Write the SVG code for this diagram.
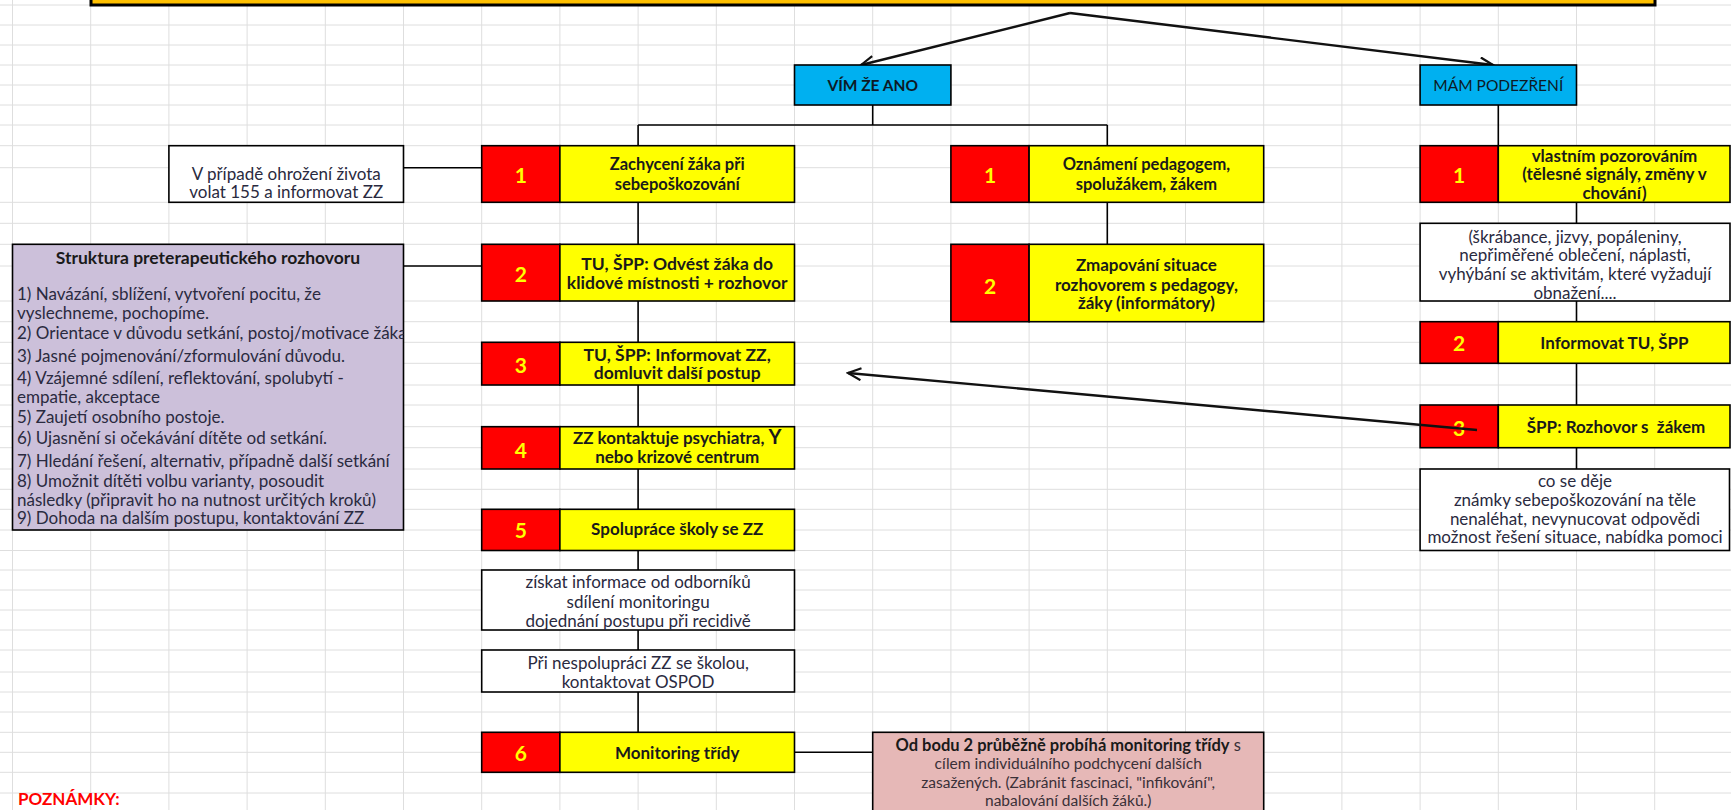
<svg xmlns="http://www.w3.org/2000/svg" width="1731" height="810" viewBox="0 0 1731 810">
<style>
.grid line{stroke:#DEDEDE;stroke-width:1}
.bx{stroke:#000;stroke-width:1.6}
.red{fill:#FF0000}
.yel{fill:#FFFF00}
.wht{fill:#FFFFFF}
text{font-family:Lato,"Liberation Sans",sans-serif}
.num{font-size:21px;font-weight:bold;fill:#FFFF00;text-anchor:middle}
.yt{font-size:17px;font-weight:bold;fill:#1a1a1a;text-anchor:middle}
.wt{font-size:17px;fill:#2a2a40;text-anchor:middle}
.pt{font-size:17px;fill:#2a2a40}
.nt{font-size:15.5px;fill:#3a3038;text-anchor:middle}
.con{stroke:#000;stroke-width:1.6;fill:none}
.arr{stroke:#111;stroke-width:2.4;fill:none}
</style>
<defs>
<marker id="ah" markerUnits="userSpaceOnUse" markerWidth="16" markerHeight="14" refX="14" refY="7" orient="auto">
<path d="M1,1 L14,7 L1,13" fill="none" stroke="#111" stroke-width="2.2"/>
</marker>
<clipPath id="pclip"><rect x="12.5" y="244.3" width="391" height="285.7"/></clipPath>
</defs>
<rect x="0" y="0" width="1731" height="810" fill="#FFFFFF"/>
<g class="grid">
<line x1="12.5" y1="0" x2="12.5" y2="810"/><line x1="90.7" y1="0" x2="90.7" y2="810"/><line x1="168.9" y1="0" x2="168.9" y2="810"/><line x1="247.1" y1="0" x2="247.1" y2="810"/><line x1="325.3" y1="0" x2="325.3" y2="810"/><line x1="403.5" y1="0" x2="403.5" y2="810"/><line x1="481.7" y1="0" x2="481.7" y2="810"/><line x1="559.9" y1="0" x2="559.9" y2="810"/><line x1="638.1" y1="0" x2="638.1" y2="810"/><line x1="716.3" y1="0" x2="716.3" y2="810"/><line x1="794.5" y1="0" x2="794.5" y2="810"/><line x1="872.7" y1="0" x2="872.7" y2="810"/><line x1="950.9" y1="0" x2="950.9" y2="810"/><line x1="1029.1" y1="0" x2="1029.1" y2="810"/><line x1="1107.3" y1="0" x2="1107.3" y2="810"/><line x1="1185.5" y1="0" x2="1185.5" y2="810"/><line x1="1263.7" y1="0" x2="1263.7" y2="810"/><line x1="1341.9" y1="0" x2="1341.9" y2="810"/><line x1="1420.1" y1="0" x2="1420.1" y2="810"/><line x1="1498.3" y1="0" x2="1498.3" y2="810"/><line x1="1576.5" y1="0" x2="1576.5" y2="810"/><line x1="1654.7" y1="0" x2="1654.7" y2="810"/>
<line x1="0" y1="5" x2="1731" y2="5"/><line x1="0" y1="25" x2="1731" y2="25"/><line x1="0" y1="45" x2="1731" y2="45"/><line x1="0" y1="65" x2="1731" y2="65"/><line x1="0" y1="85" x2="1731" y2="85"/><line x1="0" y1="105" x2="1731" y2="105"/><line x1="0" y1="125" x2="1731" y2="125"/><line x1="0" y1="145.7" x2="1731" y2="145.7"/><line x1="0" y1="167.7" x2="1731" y2="167.7"/><line x1="0" y1="202.3" x2="1731" y2="202.3"/><line x1="0" y1="223.3" x2="1731" y2="223.3"/><line x1="0" y1="244.3" x2="1731" y2="244.3"/><line x1="0" y1="266" x2="1731" y2="266"/><line x1="0" y1="301" x2="1731" y2="301"/><line x1="0" y1="321.7" x2="1731" y2="321.7"/><line x1="0" y1="342.3" x2="1731" y2="342.3"/><line x1="0" y1="363.3" x2="1731" y2="363.3"/><line x1="0" y1="385" x2="1731" y2="385"/><line x1="0" y1="405" x2="1731" y2="405"/><line x1="0" y1="426.7" x2="1731" y2="426.7"/><line x1="0" y1="447.7" x2="1731" y2="447.7"/><line x1="0" y1="469" x2="1731" y2="469"/><line x1="0" y1="489.3" x2="1731" y2="489.3"/><line x1="0" y1="509.3" x2="1731" y2="509.3"/><line x1="0" y1="530" x2="1731" y2="530"/><line x1="0" y1="550.5" x2="1731" y2="550.5"/><line x1="0" y1="570" x2="1731" y2="570"/><line x1="0" y1="590" x2="1731" y2="590"/><line x1="0" y1="610" x2="1731" y2="610"/><line x1="0" y1="630" x2="1731" y2="630"/><line x1="0" y1="650" x2="1731" y2="650"/><line x1="0" y1="672" x2="1731" y2="672"/><line x1="0" y1="692" x2="1731" y2="692"/><line x1="0" y1="712" x2="1731" y2="712"/><line x1="0" y1="732.3" x2="1731" y2="732.3"/><line x1="0" y1="752.3" x2="1731" y2="752.3"/><line x1="0" y1="772.3" x2="1731" y2="772.3"/><line x1="0" y1="793" x2="1731" y2="793"/>
</g>

<g id="title">
<rect x="91" y="-20" width="1564" height="25" fill="#FFC000" stroke="#000" stroke-width="3"/>
</g>

<g id="connectors">
<line class="con" x1="872.7" y1="105" x2="872.7" y2="125"/>
<line class="con" x1="638.1" y1="125" x2="1107.3" y2="125"/>
<line class="con" x1="638.1" y1="125" x2="638.1" y2="145.7"/>
<line class="con" x1="1107.3" y1="125" x2="1107.3" y2="145.7"/>
<line class="con" x1="638.1" y1="202.3" x2="638.1" y2="244.3"/>
<line class="con" x1="638.1" y1="301" x2="638.1" y2="342.3"/>
<line class="con" x1="638.1" y1="385" x2="638.1" y2="426.7"/>
<line class="con" x1="638.1" y1="469" x2="638.1" y2="509.3"/>
<line class="con" x1="638.1" y1="550.5" x2="638.1" y2="570"/>
<line class="con" x1="638.1" y1="630" x2="638.1" y2="650"/>
<line class="con" x1="638.1" y1="692" x2="638.1" y2="732.3"/>
<line class="con" x1="403.5" y1="167.7" x2="481.7" y2="167.7"/>
<line class="con" x1="403.5" y1="266" x2="481.7" y2="266"/>
<line class="con" x1="794.5" y1="752.3" x2="872.7" y2="752.3"/>
<line class="con" x1="1107.3" y1="202.3" x2="1107.3" y2="244.3"/>
<line class="con" x1="1498.3" y1="105" x2="1498.3" y2="145.7"/>
<line class="con" x1="1576.5" y1="202.3" x2="1576.5" y2="223.3"/>
<line class="con" x1="1576.5" y1="301" x2="1576.5" y2="321.7"/>
<line class="con" x1="1576.5" y1="363.3" x2="1576.5" y2="405"/>
<line class="con" x1="1576.5" y1="447.7" x2="1576.5" y2="469"/>
<line class="arr" x1="1070" y1="13" x2="861" y2="65" marker-end="url(#ah)"/>
<line class="arr" x1="1070" y1="13" x2="1493" y2="65" marker-end="url(#ah)"/>
</g>

<g id="vim-ze-ano">
<rect class="bx" x="794.5" y="65" width="156.4" height="40" fill="#00B0F0"/>
<text x="872.7" y="90.5" style="font-size:15.5px;font-weight:bold;fill:#0d1a26;text-anchor:middle">VÍM ŽE ANO</text>
</g>
<g id="mam-podezreni">
<rect class="bx" x="1420.1" y="65" width="156.4" height="40" fill="#00B0F0"/>
<text x="1498.3" y="90.5" style="font-size:15.5px;fill:#0d1a26;text-anchor:middle">MÁM PODEZŘENÍ</text>
</g>

<g id="ohrozeni">
<rect class="bx wht" x="168.9" y="145.7" width="234.6" height="56.6"/>
<text class="wt" x="286.2" y="180">V případě ohrožení života</text>
<text class="wt" x="286.2" y="198.3">volat 155 a informovat ZZ</text>
</g>

<g id="struktura">
<rect class="bx" x="12.5" y="244.3" width="391" height="285.7" fill="#CCC0DA"/>
<g clip-path="url(#pclip)">
<text x="208" y="264" style="font-size:17.5px;font-weight:bold;fill:#1a1a1a;text-anchor:middle">Struktura preterapeutického rozhovoru</text>
<text class="pt" x="17" y="300">1) Navázání, sblížení, vytvoření pocitu, že</text>
<text class="pt" x="17" y="319">vyslechneme, pochopíme.</text>
<text class="pt" x="17" y="339">2) Orientace v důvodu setkání, postoj/motivace žáka</text>
<text class="pt" x="17" y="361.7">3) Jasné pojmenování/zformulování důvodu.</text>
<text class="pt" x="17" y="384">4) Vzájemné sdílení, reflektování, spolubytí -</text>
<text class="pt" x="17" y="402.7">empatie, akceptace</text>
<text class="pt" x="17" y="422.7">5) Zaujetí osobního postoje.</text>
<text class="pt" x="17" y="444.3">6) Ujasnění si očekávání dítěte od setkání.</text>
<text class="pt" x="17" y="467">7) Hledání řešení, alternativ, případně další setkání</text>
<text class="pt" x="17" y="486.7">8) Umožnit dítěti volbu varianty, posoudit</text>
<text class="pt" x="17" y="506">následky (připravit ho na nutnost určitých kroků)</text>
<text class="pt" x="17" y="524">9) Dohoda na dalším postupu, kontaktování ZZ</text>
</g>
</g>

<g id="l1">
<rect class="bx red" x="481.7" y="145.7" width="78.2" height="56.6"/>
<rect class="bx yel" x="559.9" y="145.7" width="234.6" height="56.6"/>
<text class="num" x="520.8" y="182.5">1</text>
<text class="yt" x="677.2" y="170.2" style="font-size:16.5px">Zachycení žáka při</text>
<text class="yt" x="677.2" y="190" style="font-size:16.5px">sebepoškozování</text>
</g>
<g id="l2">
<rect class="bx red" x="481.7" y="244.3" width="78.2" height="56.7"/>
<rect class="bx yel" x="559.9" y="244.3" width="234.6" height="56.7"/>
<text class="num" x="520.8" y="281.5">2</text>
<text class="yt" x="677.2" y="270" style="font-size:17.5px">TU, ŠPP: Odvést žáka do</text>
<text class="yt" x="677.2" y="288.7" style="font-size:17.5px">klidové místnosti + rozhovor</text>
</g>
<g id="l3">
<rect class="bx red" x="481.7" y="342.3" width="78.2" height="42.7"/>
<rect class="bx yel" x="559.9" y="342.3" width="234.6" height="42.7"/>
<text class="num" x="520.8" y="373.2">3</text>
<text class="yt" x="677.2" y="361" style="font-size:17.5px">TU, ŠPP: Informovat ZZ,</text>
<text class="yt" x="677.2" y="379" style="font-size:17.5px">domluvit další postup</text>
</g>
<g id="l4">
<rect class="bx red" x="481.7" y="426.7" width="78.2" height="42.3"/>
<rect class="bx yel" x="559.9" y="426.7" width="234.6" height="42.3"/>
<text class="num" x="520.8" y="457.5">4</text>
<text class="yt" x="677.2" y="444" style="font-size:17px">ZZ kontaktuje psychiatra, <tspan style="font-size:20px">Y</tspan></text>
<text class="yt" x="677.2" y="462.7" style="font-size:17px">nebo krizové centrum</text>
</g>
<g id="l5">
<rect class="bx red" x="481.7" y="509.3" width="78.2" height="41.2"/>
<rect class="bx yel" x="559.9" y="509.3" width="234.6" height="41.2"/>
<text class="num" x="520.8" y="537.5">5</text>
<text class="yt" x="677.2" y="535">Spolupráce školy se ZZ</text>
</g>
<g id="odbornici">
<rect class="bx wht" x="481.7" y="570" width="312.8" height="60"/>
<text class="wt" x="638.1" y="588">získat informace od odborníků</text>
<text class="wt" x="638.1" y="608">sdílení monitoringu</text>
<text class="wt" x="638.1" y="627">dojednání postupu při recidivě</text>
</g>
<g id="ospod">
<rect class="bx wht" x="481.7" y="650" width="312.8" height="42"/>
<text class="wt" x="638.1" y="668.7">Při nespolupráci ZZ se školou,</text>
<text class="wt" x="638.1" y="687.7">kontaktovat OSPOD</text>
</g>
<g id="l6">
<rect class="bx red" x="481.7" y="732.3" width="78.2" height="40"/>
<rect class="bx yel" x="559.9" y="732.3" width="234.6" height="40"/>
<text class="num" x="520.8" y="760.5">6</text>
<text class="yt" x="677.2" y="758.5">Monitoring třídy</text>
</g>
<g id="monitoring-note">
<rect class="bx" x="872.7" y="732.3" width="391" height="100" fill="#E6B8B7"/>
<text class="nt" x="1068.2" y="750.5" style="font-size:16.5px"><tspan font-weight="bold" fill="#1a1a1a">Od bodu 2 průběžně probíhá monitoring třídy</tspan> s</text>
<text class="nt" x="1068.2" y="769">cílem individuálního podchycení dalších</text>
<text class="nt" x="1068.2" y="787.5">zasažených. (Zabránit fascinaci, "infikování",</text>
<text class="nt" x="1068.2" y="806">nabalování dalších žáků.)</text>
</g>

<g id="m1">
<rect class="bx red" x="950.9" y="145.7" width="78.2" height="56.6"/>
<rect class="bx yel" x="1029.1" y="145.7" width="234.6" height="56.6"/>
<text class="num" x="990" y="182.5">1</text>
<text class="yt" x="1146.4" y="170.2" style="font-size:16.5px">Oznámení pedagogem,</text>
<text class="yt" x="1146.4" y="190" style="font-size:16.5px">spolužákem, žákem</text>
</g>
<g id="m2">
<rect class="bx red" x="950.9" y="244.3" width="78.2" height="77.4"/>
<rect class="bx yel" x="1029.1" y="244.3" width="234.6" height="77.4"/>
<text class="num" x="990" y="293.5">2</text>
<text class="yt" x="1146.4" y="270.7">Zmapování situace</text>
<text class="yt" x="1146.4" y="290.7">rozhovorem s pedagogy,</text>
<text class="yt" x="1146.4" y="309.3">žáky (informátory)</text>
</g>

<g id="r1">
<rect class="bx red" x="1420.1" y="145.7" width="78.2" height="56.6"/>
<rect class="bx yel" x="1498.3" y="145.7" width="231.7" height="56.6"/>
<text class="num" x="1459.2" y="182.5">1</text>
<text class="yt" x="1614.5" y="161.7">vlastním pozorováním</text>
<text class="yt" x="1614.5" y="180.3">(tělesné signály, změny v</text>
<text class="yt" x="1614.5" y="199.3">chování)</text>
</g>
<g id="r-znaky">
<rect class="bx wht" x="1420.1" y="223.3" width="309.9" height="77.7"/>
<text class="wt" x="1575" y="242.7">(škrábance, jizvy, popáleniny,</text>
<text class="wt" x="1575" y="261">nepřiměřené oblečení, náplasti,</text>
<text class="wt" x="1575" y="280.3">vyhýbání se aktivitám, které vyžadují</text>
<text class="wt" x="1575" y="299.3">obnažení....</text>
</g>
<g id="r2">
<rect class="bx red" x="1420.1" y="321.7" width="78.2" height="41.6"/>
<rect class="bx yel" x="1498.3" y="321.7" width="231.7" height="41.6"/>
<text class="num" x="1459.2" y="350.5">2</text>
<text class="yt" x="1614.5" y="349.3">Informovat TU, ŠPP</text>
</g>
<g id="r3">
<rect class="bx red" x="1420.1" y="405" width="78.2" height="42.7"/>
<rect class="bx yel" x="1498.3" y="405" width="231.7" height="42.7"/>
<text class="num" x="1459.2" y="435.5">3</text>
<text class="yt" x="1616" y="432.7" style="white-space:pre">ŠPP: Rozhovor s  žákem</text>
</g>
<g id="r-rozhovor">
<rect class="bx wht" x="1420.1" y="469" width="309.4" height="81.5"/>
<text class="wt" x="1575" y="487">co se děje</text>
<text class="wt" x="1575" y="506">známky sebepoškozování na těle</text>
<text class="wt" x="1575" y="525">nenaléhat, nevynucovat odpovědi</text>
<text class="wt" x="1575" y="543.3">možnost řešení situace, nabídka pomoci</text>
</g>

<g id="connector-back">
<line class="arr" x1="1477" y1="430" x2="848" y2="373" marker-end="url(#ah)"/>
</g>

<g id="poznamky">
<text x="18" y="805" style="font-size:17px;font-weight:bold;fill:#FF0000">POZNÁMKY:</text>
</g>
</svg>
